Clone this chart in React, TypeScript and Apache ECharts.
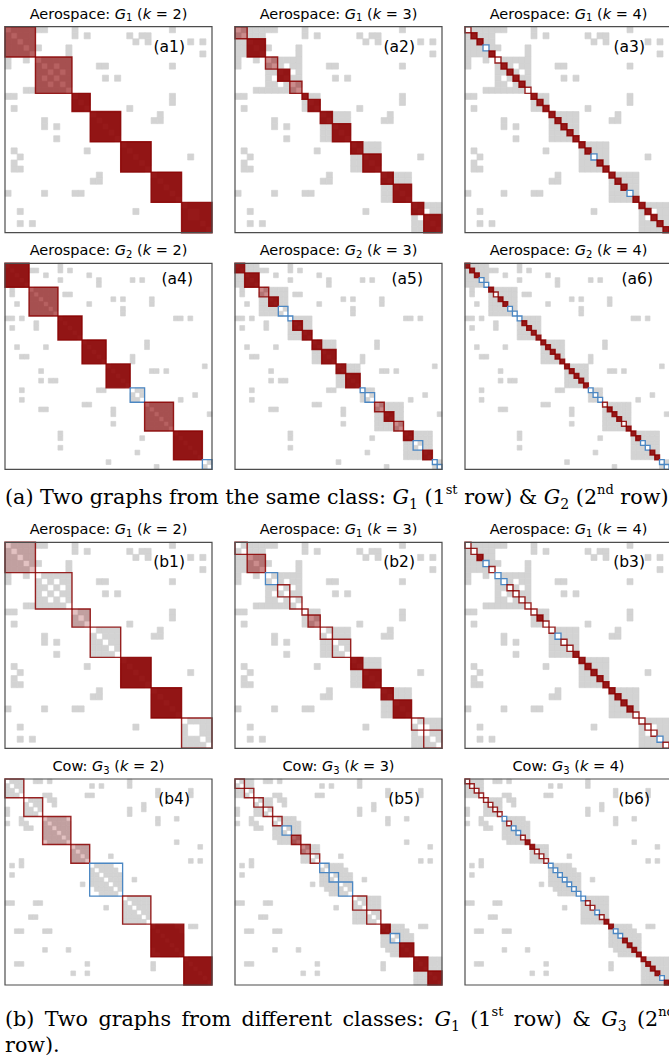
import React, { useEffect, useRef } from "react";
import * as echarts from "echarts";

// ---------- adjacency (upper-triangle neighbour lists) ----------
const G1_ADJ: number[][] = [
  [1, 2, 3, 4, 5, 6, 11, 27],
  [2, 3, 4, 11, 13, 20, 22, 23],
  [3, 4, 21, 23, 30, 32],
  [4, 5, 10],
  [10, 32],
  [6, 7, 8, 9, 10],
  [7, 9, 10, 15, 16, 27],
  [8, 10],
  [9, 10, 16, 18],
  [10],
  [],
  [12, 13, 27],
  [13, 27],
  [20],
  [15, 16, 17, 18, 25],
  [16, 17, 18, 24, 25],
  [17, 18],
  [18],
  [],
  [20, 21, 22, 23],
  [21, 22, 23],
  [22, 23, 30],
  [23],
  [],
  [25, 26, 27, 28],
  [26, 27, 28],
  [27, 28],
  [28],
  [],
  [30, 31, 32, 33],
  [32, 33],
  [32, 33],
  [33],
  [],
];

const G2_ADJ: number[][] = [
  [1, 2, 3, 4, 11],
  [2, 3, 4, 5, 6, 11, 13],
  [3, 4, 8, 17],
  [4, 11, 19, 26, 28],
  [19],
  [6, 7, 8, 9, 10],
  [7, 8, 9, 10, 12, 13],
  [8, 9, 10, 22, 24, 30],
  [9, 10, 17, 30],
  [10, 24],
  [24],
  [12, 13, 14, 15, 35, 36, 38],
  [13, 14, 15],
  [14, 15],
  [15],
  [],
  [17, 18, 19, 20, 29],
  [18, 19, 20, 29],
  [19, 20],
  [20, 26],
  [26],
  [22, 23, 24, 25, 41],
  [23, 24, 25, 30, 31, 33],
  [24, 25],
  [25],
  [],
  [27, 28],
  [28, 39],
  [36],
  [30, 31, 32, 33, 34],
  [31, 32, 33, 34],
  [32, 33, 34, 42],
  [33, 34],
  [34],
  [],
  [36, 37, 38, 39, 40],
  [37, 38, 39, 40],
  [38, 39, 40],
  [39, 40],
  [40],
  [],
  [42],
  [],
];

const G3_ADJ: number[][] = [
  [1, 2, 3, 6, 7, 9, 26],
  [2, 3, 18, 20, 26],
  [3, 32, 39],
  [8, 9, 17, 18, 32, 39],
  [5, 6, 7, 9, 10],
  [6, 7, 10, 29],
  [7, 26, 29],
  [26],
  [9, 10, 11, 12, 32, 36],
  [10, 11, 12, 13, 32],
  [11, 12, 13],
  [12, 13],
  [13],
  [36],
  [15, 16, 17, 41],
  [16, 17],
  [17, 22],
  [39, 41],
  [19, 20, 21, 22],
  [20, 21, 22, 23],
  [21, 22, 23, 24],
  [22, 23, 24, 27],
  [23, 24],
  [24],
  [],
  [26, 27, 28, 29, 30],
  [27, 28, 29, 30],
  [28, 29, 30],
  [29, 30],
  [30],
  [],
  [32, 33, 34, 35, 39, 40],
  [33, 34, 35, 36],
  [34, 35, 36, 37],
  [35, 36, 37],
  [36, 37],
  [37],
  [],
  [39, 40, 41, 42, 43],
  [40, 41, 42, 43],
  [41, 42, 43],
  [42, 43],
  [43],
  [],
];

// ---------- blocks per panel: sizes and styles ----------
// D dark fill, M medium fill, P pink fill, L light fill, R red outline, B blue outline
const A1_SIZES = [5, 6, 3, 5, 5, 5, 5];
const A1_STYLES = "MMDDDDD";
const A2_SIZES = [2, 3, 2, 2, 2, 1, 2, 2, 3, 2, 3, 2, 3, 2, 3];
const A2_STYLES = "PDPDPDDDDDDDDDD";
const A3_SIZES = Array(34).fill(1);
const A3_STYLES = "RDDBDRDDDDRDDDDDDDDDDBDDDDDBDDDDDD";
const A4_SIZES = [5, 6, 5, 5, 5, 3, 6, 6, 2];
const A4_STYLES = "DMDDDBMDB";
const A5_SIZES = [2, 3, 2, 2, 2, 1, 2, 2, 2, 3, 2, 3, 1, 2, 2, 2, 2, 2, 2, 2, 1, 1];
const A5_STYLES = "DDPDBBDDDDDDBBPDPDBDBB";
const A6_SIZES = Array(43).fill(1);
const A6_STYLES = "DDDBBDRDDBBBDDDDDDDDDDDDDDBBBRDDDRDDDBBDDBB";
const B1_SIZES = [5, 6, 3, 5, 5, 5, 5];
const B1_STYLES = "LRLRDDR";
const B2_SIZES = [2, 3, 2, 2, 2, 1, 2, 2, 3, 2, 3, 2, 3, 2, 3];
const B2_STYLES = "RPBRRRPRRDDDDRR";
const B3_SIZES = Array(34).fill(1);
const B3_STYLES = "RRDBRBBRRRRRDRRBRRDDDDDDDDDDRRRRBR";
const B4_SIZES = [4, 4, 6, 4, 7, 6, 7, 6];
const B4_STYLES = "RRLLBRDD";
const B5_SIZES = [2, 2, 2, 2, 2, 2, 2, 2, 2, 2, 2, 3, 3, 3, 2, 2, 3, 3, 3];
const B5_STYLES = "RRRRRBMPRBBBRRDBDDD";
const B6_SIZES = Array(44).fill(1);
const B6_STYLES = "RRRRRRRRBRBBRDDRRRBBBBBBBBRRBRDDBBDDDDDDDDBD";

const PANEL_NAMES = ["a1", "a2", "a3", "a4", "a5", "a6", "b1", "b2", "b3", "b4", "b5", "b6"];
const PANEL_CLASS = ["Aerospace", "Aerospace", "Aerospace", "Aerospace", "Aerospace", "Aerospace",
  "Aerospace", "Aerospace", "Aerospace", "Cow", "Cow", "Cow"];
const PANEL_GRAPH = ["1", "1", "1", "2", "2", "2", "1", "1", "1", "3", "3", "3"];
const PANEL_K = [2, 3, 4, 2, 3, 4, 2, 3, 4, 2, 3, 4];

const CAPTION_A = ["(a)", "Two", "graphs", "from", "the", "same", "class:", "{i|G}{s|1}", "(1{u|st}", "row)", "&", "{i|G}{s|2}", "(2{u|nd}", "row)"];
const CAPTION_B1 = ["(b)", "Two", "graphs", "from", "different", "classes:", "{i|G}{s|1}", "(1{u|st}", "row)", "&", "{i|G}{s|3}", "(2{u|nd}"];
const CAPTION_B2 = ["row)."];

const ADJ: Record<string, number[][]> = { "1": G1_ADJ, "2": G2_ADJ, "3": G3_ADJ };
const SIZES = [A1_SIZES, A2_SIZES, A3_SIZES, A4_SIZES, A5_SIZES, A6_SIZES,
  B1_SIZES, B2_SIZES, B3_SIZES, B4_SIZES, B5_SIZES, B6_SIZES];
const STYLES = [A1_STYLES, A2_STYLES, A3_STYLES, A4_STYLES, A5_STYLES, A6_STYLES,
  B1_STYLES, B2_STYLES, B3_STYLES, B4_STYLES, B5_STYLES, B6_STYLES];

// ---------- layout ----------
const COL_LEFT = [5, 235, 465];
const ROW_TOP = [26.7, 263.3, 542.3, 779];
const BOX_W = 207;
const BOX_H = 206;
// label offsets per graph: [right inset, vertical offset]
const LABEL_POS: Record<string, [number, number]> = { "1": [27, 20], "2": [19, 16], "3": [22, 20] };

const FILL_ALPHA: Record<string, number> = { D: 0.9, M: 0.62, P: 0.45, L: 0.24 };
const RED = "139,0,0";
const BLUE = "#4b87c3";
const GRAY = "#d3d3d3";

function cellsOf(adj: number[][]) {
  const out: number[][] = [];
  adj.forEach((nb, i) => nb.forEach((j) => { out.push([j, i]); out.push([i, j]); }));
  return out;
}

function blocksOf(sizes: number[], styles: string) {
  const out: any[] = [];
  let s = 0;
  sizes.forEach((n, b) => {
    out.push([s, n, "DMPLRB".indexOf(styles[b])]);
    s += n;
  });
  return out;
}

function buildOption() {
  const grid: any[] = [];
  const xAxis: any[] = [];
  const yAxis: any[] = [];
  const series: any[] = [];
  const graphic: any[] = [];

  PANEL_NAMES.forEach((name, k) => {
    const g = PANEL_GRAPH[k];
    const adj = ADJ[g];
    const N = adj.length;
    const left = COL_LEFT[k % 3];
    const top = ROW_TOP[Math.floor(k / 3)];
    grid.push({ left, top, width: BOX_W, height: BOX_H, show: false });
    xAxis.push({ gridIndex: k, type: "value", min: 0, max: N, show: false });
    yAxis.push({ gridIndex: k, type: "value", min: 0, max: N, inverse: true, show: false });

    series.push({
      type: "custom",
      xAxisIndex: k,
      yAxisIndex: k,
      silent: true,
      z: 1,
      data: cellsOf(adj),
      renderItem: (_p: any, api: any) => {
        const c = api.value(0), r = api.value(1);
        const p0 = api.coord([c, r]);
        const p1 = api.coord([c + 1, r + 1]);
        return {
          type: "rect",
          shape: { x: p0[0], y: p0[1], width: p1[0] - p0[0], height: p1[1] - p0[1] },
          style: { fill: GRAY, stroke: GRAY, lineWidth: 0.7 },
        };
      },
    });

    series.push({
      type: "custom",
      xAxisIndex: k,
      yAxisIndex: k,
      silent: true,
      z: 2,
      data: blocksOf(SIZES[k], STYLES[k]),
      renderItem: (_p: any, api: any) => {
        const s = api.value(0), n = api.value(1), st = "DMPLRB"[api.value(2)];
        const p0 = api.coord([s, s]);
        const p1 = api.coord([s + n, s + n]);
        let style: any;
        if (st === "B") {
          style = { fill: "none", stroke: BLUE, lineWidth: 1.3 };
        } else if (st === "R") {
          style = { fill: "none", stroke: `rgba(${RED},0.85)`, lineWidth: 1.4 };
        } else {
          style = { fill: `rgba(${RED},${FILL_ALPHA[st]})`, stroke: `rgba(${RED},0.85)`, lineWidth: 1.4 };
        }
        return {
          type: "rect",
          shape: { x: p0[0], y: p0[1], width: p1[0] - p0[0], height: p1[1] - p0[1] },
          style,
        };
      },
    });

    // frame
    graphic.push({
      type: "rect",
      x: left,
      y: top,
      z: 10,
      shape: { x: 0, y: 0, width: BOX_W, height: BOX_H },
      style: { fill: "none", stroke: "#4d4d4d", lineWidth: 1.2 },
      silent: true,
    });
    // title
    graphic.push({
      type: "text",
      x: left + BOX_W / 2,
      y: top - 13,
      z: 10,
      style: {
        text: `${PANEL_CLASS[k]}: {i|G}{s|${g}} ({i|k} = ${PANEL_K[k]})`,
        align: "center",
        verticalAlign: "middle",
        fontSize: 14.5,
        fontFamily: "DejaVu Sans",
        lineHeight: 18,
        fill: "#000",
        rich: {
          i: { fontSize: 14.5, fontFamily: "DejaVu Sans", fontStyle: "italic", lineHeight: 18 },
          s: { fontSize: 10, fontFamily: "DejaVu Sans", lineHeight: 11, verticalAlign: "bottom" },
        },
      },
    });
    // panel label
    const [ri, dy] = LABEL_POS[g];
    graphic.push({
      type: "text",
      x: left + BOX_W - ri,
      y: top + dy,
      z: 10,
      style: {
        text: `(${name})`,
        align: "right",
        verticalAlign: "middle",
        fontSize: 15.5,
        fontFamily: "DejaVu Sans",
        fill: "#000",
      },
    });
  });

  const FS = 20.7;
  const capRich = {
    i: { fontSize: FS, fontFamily: "DejaVu Serif", fontStyle: "italic", lineHeight: 28 },
    s: { fontSize: 14, fontFamily: "DejaVu Serif", lineHeight: 16, verticalAlign: "bottom" },
    u: { fontSize: 13, fontFamily: "DejaVu Serif", lineHeight: 14, verticalAlign: "top" },
    w: { fontSize: FS, fontFamily: "DejaVu Serif", lineHeight: 28, width: 10.4 },
  };
  const capStyle = {
    fontSize: FS,
    fontFamily: "DejaVu Serif",
    lineHeight: 28,
    fill: "#000",
    align: "left",
    verticalAlign: "middle",
    rich: capRich,
  };
  graphic.push({
    type: "text", x: 5, y: 497, z: 10,
    style: { ...capStyle, text: CAPTION_A.join(" ") },
  });
  // justified first line of caption (b): wider word gaps
  graphic.push({
    type: "text", x: 5, y: 1019, z: 10,
    style: { ...capStyle, text: CAPTION_B1.join("{w| }") },
  });
  graphic.push({
    type: "text", x: 5, y: 1045, z: 10,
    style: { ...capStyle, text: CAPTION_B2.join(" ") },
  });

  return { animation: false, backgroundColor: "#fff", grid, xAxis, yAxis, series, graphic };
}

export default function App() {
  const ref = useRef<HTMLDivElement>(null);
  useEffect(() => {
    document.body.style.margin = "0";
    const chart = echarts.init(ref.current!, null, { renderer: "svg" });
    chart.setOption(buildOption() as any);
    return () => chart.dispose();
  }, []);
  return <div ref={ref} style={{ width: 669, height: 1061 }} />;
}
